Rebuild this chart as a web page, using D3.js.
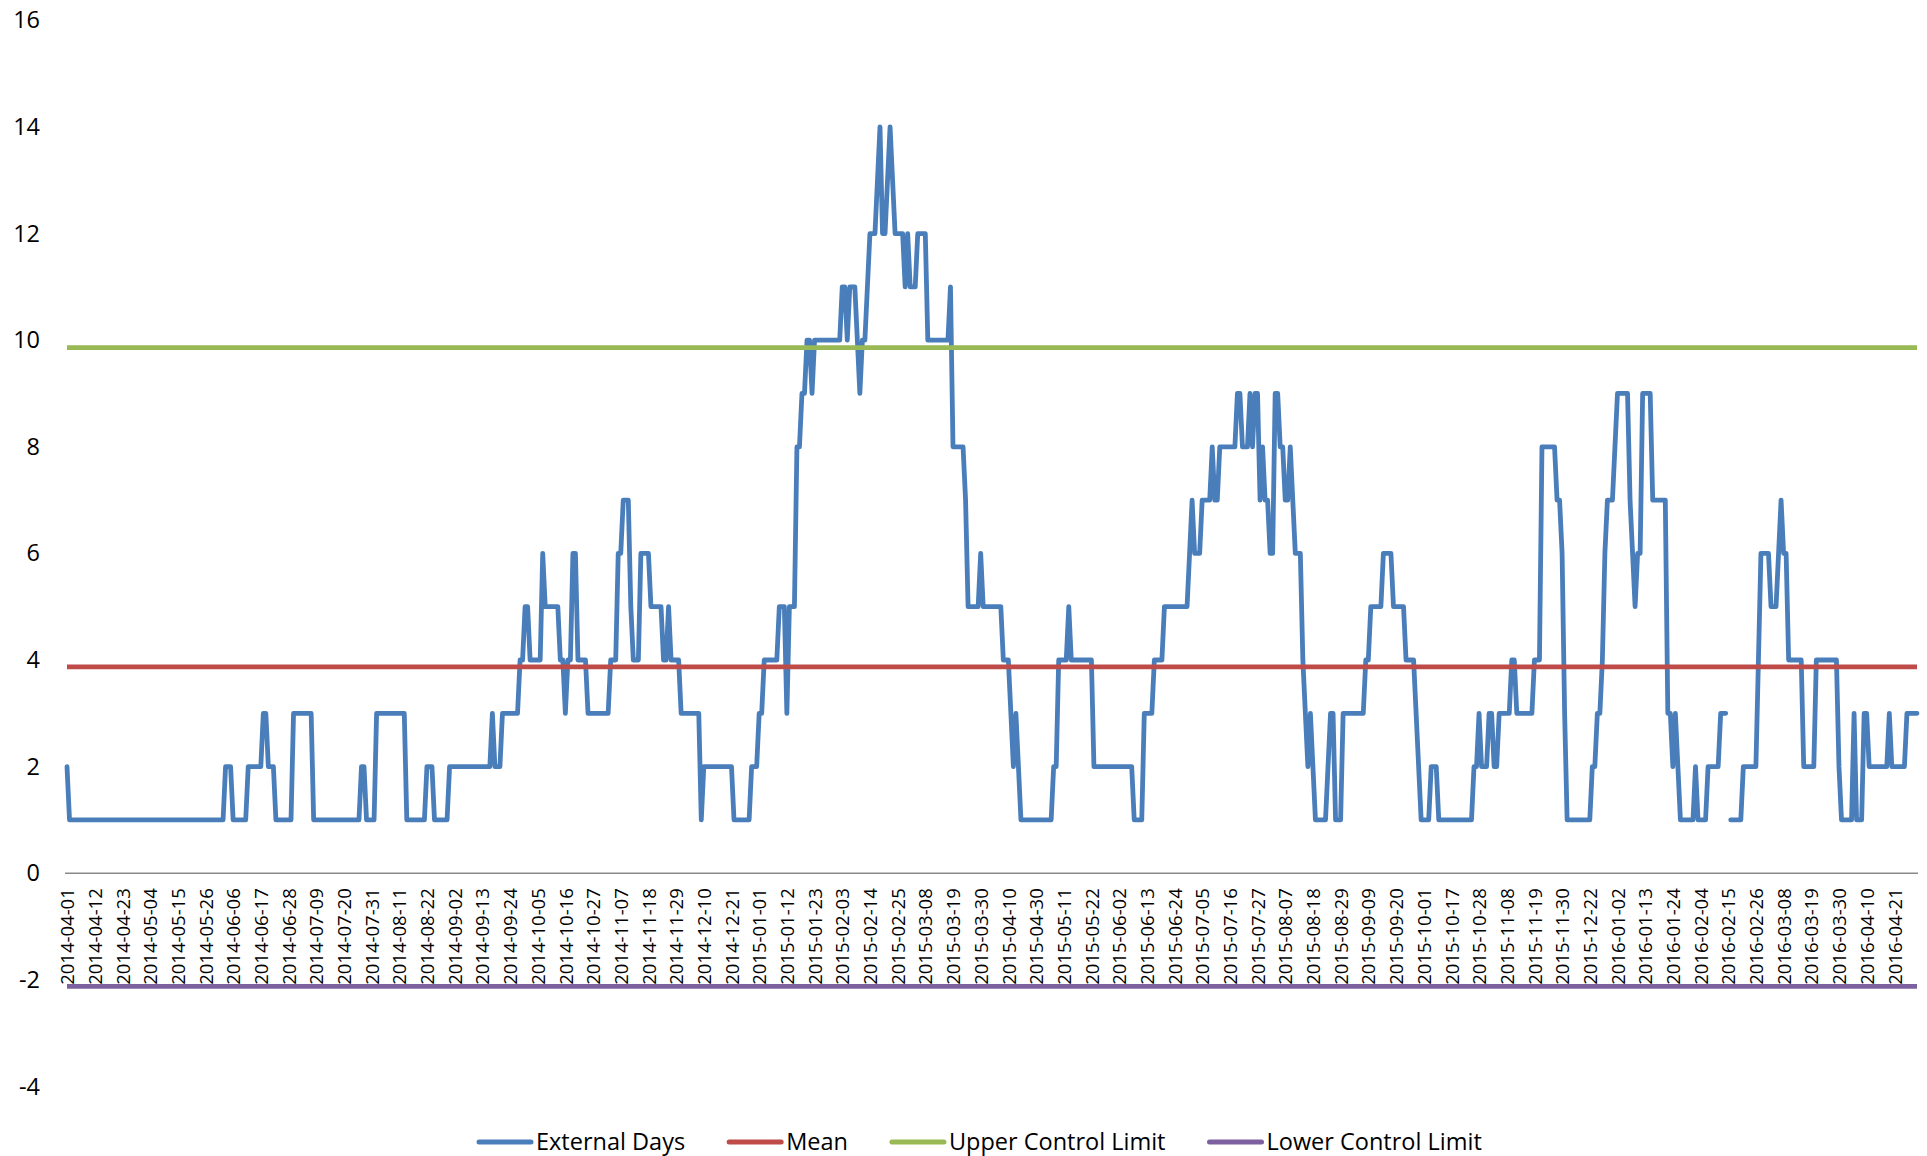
<!DOCTYPE html>
<html>
<head>
<meta charset="utf-8">
<script src="https://cdn.jsdelivr.net/npm/d3@7/dist/d3.min.js"></script>
<style>
  html, body { margin: 0; padding: 0; background: #fff; }
  text { font-family: "Open Sans", Roboto, sans-serif; fill: #000; }
</style>
</head>
<body>
<div id="vis"></div>
<script>
// tick labels shown every 11th category
const tickLabels = [
  "2014-04-01", "2014-04-12", "2014-04-23", "2014-05-04", "2014-05-15", "2014-05-26",
  "2014-06-06", "2014-06-17", "2014-06-28", "2014-07-09", "2014-07-20", "2014-07-31",
  "2014-08-11", "2014-08-22", "2014-09-02", "2014-09-13", "2014-09-24", "2014-10-05",
  "2014-10-16", "2014-10-27", "2014-11-07", "2014-11-18", "2014-11-29", "2014-12-10",
  "2014-12-21", "2015-01-01", "2015-01-12", "2015-01-23", "2015-02-03", "2015-02-14",
  "2015-02-25", "2015-03-08", "2015-03-19", "2015-03-30", "2015-04-10", "2015-04-30",
  "2015-05-11", "2015-05-22", "2015-06-02", "2015-06-13", "2015-06-24", "2015-07-05",
  "2015-07-16", "2015-07-27", "2015-08-07", "2015-08-18", "2015-08-29", "2015-09-09",
  "2015-09-20", "2015-10-01", "2015-10-17", "2015-10-28", "2015-11-08", "2015-11-19",
  "2015-11-30", "2015-12-22", "2016-01-02", "2016-01-13", "2016-01-24", "2016-02-04",
  "2016-02-15", "2016-02-26", "2016-03-08", "2016-03-19", "2016-03-30", "2016-04-10",
  "2016-04-21"
];
const tickEvery = 11;

// External Days as [value, number of days] runs
const externalDaysRuns = [
  [2,1],[1,62],[2,3],[1,6],[2,6],[3,2],[2,3],[1,7],[3,8],[1,19],[2,2],[1,4],[3,12],[1,8],
  [2,3],[1,6],[2,17],[3,1],[2,3],[3,7],[4,2],[5,2],[4,5],[6,1],[5,6],[4,2],[3,1],[4,2],
  [6,2],[4,4],[3,9],[4,3],[6,2],[7,3],[5,1],[4,3],[6,4],[5,5],[4,2],[5,1],[4,4],[3,8],
  [1,1],[2,12],[1,7],[2,3],[3,2],[4,6],[5,3],[3,1],[5,3],[8,2],[9,2],[10,2],[9,1],[10,11],
  [11,2],[10,1],[11,3],[10,1],[9,1],[10,2],[11,1],[12,3],[13,1],[14,1],[12,2],[13,1],
  [14,1],[13,1],[12,4],[11,1],[12,1],[11,3],[12,4],[10,9],[11,1],[8,5],[7,1],[5,5],[6,1],
  [5,8],[4,3],[3,1],[2,1],[3,1],[2,1],[1,13],[2,2],[4,4],[5,1],[4,9],[2,16],[1,4],[3,4],
  [4,4],[5,10],[6,1],[7,1],[6,3],[7,4],[8,1],[7,2],[8,7],[9,2],[8,3],[9,1],[8,1],[9,2],
  [7,1],[8,1],[7,2],[6,2],[9,2],[8,2],[7,2],[8,1],[7,1],[6,3],[4,1],[3,1],[2,1],[3,1],
  [2,1],[1,5],[2,1],[3,2],[1,3],[3,9],[4,2],[5,5],[6,4],[5,5],[4,4],[3,1],[2,1],[1,4],
  [2,3],[1,14],[2,2],[3,1],[2,3],[3,2],[2,2],[3,5],[4,2],[3,7],[4,3],[8,6],[7,2],[6,1],
  [3,1],[1,10],[2,2],[3,2],[4,1],[6,1],[7,3],[8,1],[9,5],[7,1],[6,1],[5,1],[6,2],[9,4],
  [7,6],[3,2],[2,1],[3,1],[2,1],[1,6],[2,1],[1,4],[2,5],[3,3],[null,1],[1,5],[2,6],[4,1],
  [6,4],[5,3],[6,1],[7,1],[6,2],[4,6],[2,5],[4,9],[2,1],[1,5],[3,1],[1,3],[3,2],[2,8],
  [3,1],[2,6],[3,5]
];

const meanValue = 3.87;
const upperLimit = 9.86;
const lowerLimit = -2.12;

const yTicks = [-4, -2, 0, 2, 4, 6, 8, 10, 12, 14, 16];

const seriesNames = ["External Days", "Mean", "Upper Control Limit", "Lower Control Limit"];
const seriesColors = ["#4A7EBB", "#BE4B48", "#98B954", "#7D60A0"];

// expand the runs into one value per category
var externalDays = [];
externalDaysRuns.forEach(function (r) {
  for (var k = 0; k < r[1]; k++) externalDays.push(r[0]);
});
var idx = d3.range(externalDays.length);

var width = 1927, height = 1156;

var svg = d3.select("#vis")
  .append("svg")
  .attr("width", width)
  .attr("height", height)
  .style("display", "block");

svg.append("rect").attr("width", width).attr("height", height).attr("fill", "#fff");

var x = d3.scalePoint().domain(idx).range([67, 1917]);
var y = d3.scaleLinear().domain([-4, 16]).range([1086.5, 20.3]);

// y axis labels, no axis line
var yAxis = svg.append("g")
  .attr("transform", "translate(40,0)")
  .call(d3.axisLeft(y).tickValues(yTicks).tickSize(0).tickPadding(0)
    .tickFormat(function (d) { return String(d); }));
yAxis.select(".domain").remove();
yAxis.selectAll("text")
  .attr("font-size", 23.5)
  .attr("font-family", "'Open Sans', sans-serif")
  .attr("fill", "#000");

// category axis at zero
var xAxis = svg.append("g")
  .attr("transform", "translate(0," + y(0) + ")")
  .call(d3.axisBottom(x)
    .tickValues(idx.filter(function (i) { return i % tickEvery === 0; }))
    .tickFormat(function (i) { return tickLabels[i / tickEvery]; })
    .tickSize(0));
xAxis.select(".domain")
  .attr("d", "M65,0H1918")
  .attr("stroke", "#898989")
  .attr("stroke-width", 1.3);
xAxis.selectAll("text")
  .attr("font-size", 18.5)
  .attr("font-family", "'Open Sans', sans-serif")
  .attr("fill", "#000")
  .attr("text-anchor", "end")
  .attr("transform", "rotate(-90)")
  .attr("x", -15)
  .attr("y", 0)
  .attr("dy", "0.36em");

var line = d3.line()
  .defined(function (d) { return d.v !== null; })
  .x(function (d) { return x(d.i); })
  .y(function (d) { return y(d.v); });

svg.append("path")
  .datum(idx.map(function (i) { return { i: i, v: externalDays[i] }; }))
  .attr("fill", "none")
  .attr("stroke", seriesColors[0])
  .attr("stroke-width", 4.8)
  .attr("stroke-linejoin", "round")
  .attr("stroke-linecap", "round")
  .attr("d", line);

[meanValue, upperLimit, lowerLimit].forEach(function (level, k) {
  svg.append("path")
    .datum(idx.map(function (i) { return { i: i, v: level }; }))
    .attr("fill", "none")
    .attr("stroke", seriesColors[k + 1])
    .attr("stroke-width", 4.8)
    .attr("d", line);
});

// legend, starting where the reference starts it
var legend = svg.append("g").attr("transform", "translate(477,1142)");
var lx = 0;
seriesNames.forEach(function (name, k) {
  var g = legend.append("g").attr("transform", "translate(" + lx + ",0)");
  g.append("line")
    .attr("x1", 2).attr("x2", 54)
    .attr("stroke", seriesColors[k])
    .attr("stroke-width", 5)
    .attr("stroke-linecap", "round");
  var t = g.append("text")
    .attr("x", 59)
    .attr("dy", "0.35em")
    .attr("font-size", 23.5)
    .text(name);
  lx += 59 + t.node().getComputedTextLength() + 42;
});
</script>
</body>
</html>
